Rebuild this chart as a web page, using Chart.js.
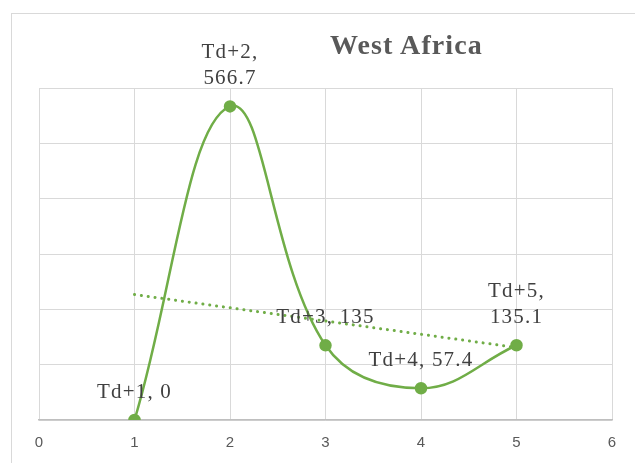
<!DOCTYPE html>
<html>
<head>
<meta charset="utf-8">
<script src="https://cdn.jsdelivr.net/npm/chart.js@4"></script>
<style>
  html, body { margin: 0; padding: 0; background: #fff; overflow: hidden; }
  #wrap { position: relative; width: 635px; height: 463px; overflow: hidden; }
  #frame { position: absolute; left: 11px; top: 13px; width: 660px; height: 480px;
           border: 1px solid #d9d9d9; box-sizing: border-box; }
  #title { position: absolute; left: 330px; top: 29px; font: bold 28px "Liberation Serif", serif;
           color: #595959; letter-spacing: 1.1px; white-space: nowrap; }
  canvas { position: absolute; left: 0; top: 0; }
</style>
</head>
<body>
<div id="wrap">
  <div id="frame"></div>
  <canvas id="c" width="635" height="463"></canvas>
  <div id="title">West Africa</div>
</div>
<script>
// Series: day offsets after Td and their values
const pointNames = ["Td+1", "Td+2", "Td+3", "Td+4", "Td+5"];
const xValues = [1, 2, 3, 4, 5];
const yValues = [0, 566.7, 135, 57.4, 135.1];
// Linear trendline end points
const trendX = [1, 5];
const trendY = [226.7, 131.0];
// Labels that break onto two lines
const wrapLabel = [false, true, false, false, true];
const xTicks = [0, 1, 2, 3, 4, 5, 6];

const green = "#70ad47";

const seriesData = xValues.map((x, i) => ({ x, y: yValues[i] }));
const trendData = trendX.map((x, i) => ({ x, y: trendY[i] }));

const pointLabels = {
  id: "pointLabels",
  afterDatasetsDraw(chart) {
    const ctx = chart.ctx;
    const meta = chart.getDatasetMeta(0);
    ctx.save();
    ctx.font = '21px "Liberation Serif", serif';
    ctx.fillStyle = "#404040";
    ctx.textAlign = "center";
    ctx.textBaseline = "middle";
    if ("letterSpacing" in ctx) ctx.letterSpacing = "1.2px";
    meta.data.forEach((el, i) => {
      const name = pointNames[i], val = String(yValues[i]);
      const lines = wrapLabel[i] ? [name + ",", val] : [name + ", " + val];
      const lh = 26;
      lines.forEach((t, k) => {
        const y = el.y - 28 - (lines.length - 1 - k) * lh;
        ctx.fillText(t, el.x, y);
      });
    });
    ctx.restore();
  }
};

new Chart(document.getElementById("c"), {
  type: "scatter",
  data: {
    datasets: [
      {
        data: seriesData,
        showLine: true,
        tension: 0.4,
        borderColor: green,
        borderWidth: 2.5,
        backgroundColor: green,
        pointBackgroundColor: green,
        pointBorderColor: green,
        pointRadius: 5,
        order: 1
      },
      {
        data: trendData,
        showLine: true,
        borderColor: green,
        borderWidth: 3,
        borderDash: [0.1, 6.8],
        borderCapStyle: "round",
        pointRadius: 0,
        order: 2
      }
    ]
  },
  options: {
    responsive: false,
    animation: false,
    layout: { padding: { left: 39, top: 88, right: 23, bottom: -3 } },
    plugins: { legend: { display: false }, tooltip: { enabled: false } },
    scales: {
      x: {
        type: "linear",
        min: xTicks[0],
        max: xTicks[xTicks.length - 1],
        afterBuildTicks(axis) { axis.ticks = xTicks.map(v => ({ value: v })); },
        grid: { color: "#d9d9d9", lineWidth: 1, drawTicks: false },
        border: { color: "#bfbfbf", width: 1.5 },
        ticks: { color: "#595959", padding: 14, font: { family: '"Liberation Sans", sans-serif', size: 15 } }
      },
      y: {
        min: 0,
        max: 600,
        ticks: { display: false, stepSize: 100 },
        grid: { color: "#d9d9d9", lineWidth: 1, drawTicks: false },
        border: { display: false }
      }
    }
  },
  plugins: [pointLabels]
});
</script>
</body>
</html>
